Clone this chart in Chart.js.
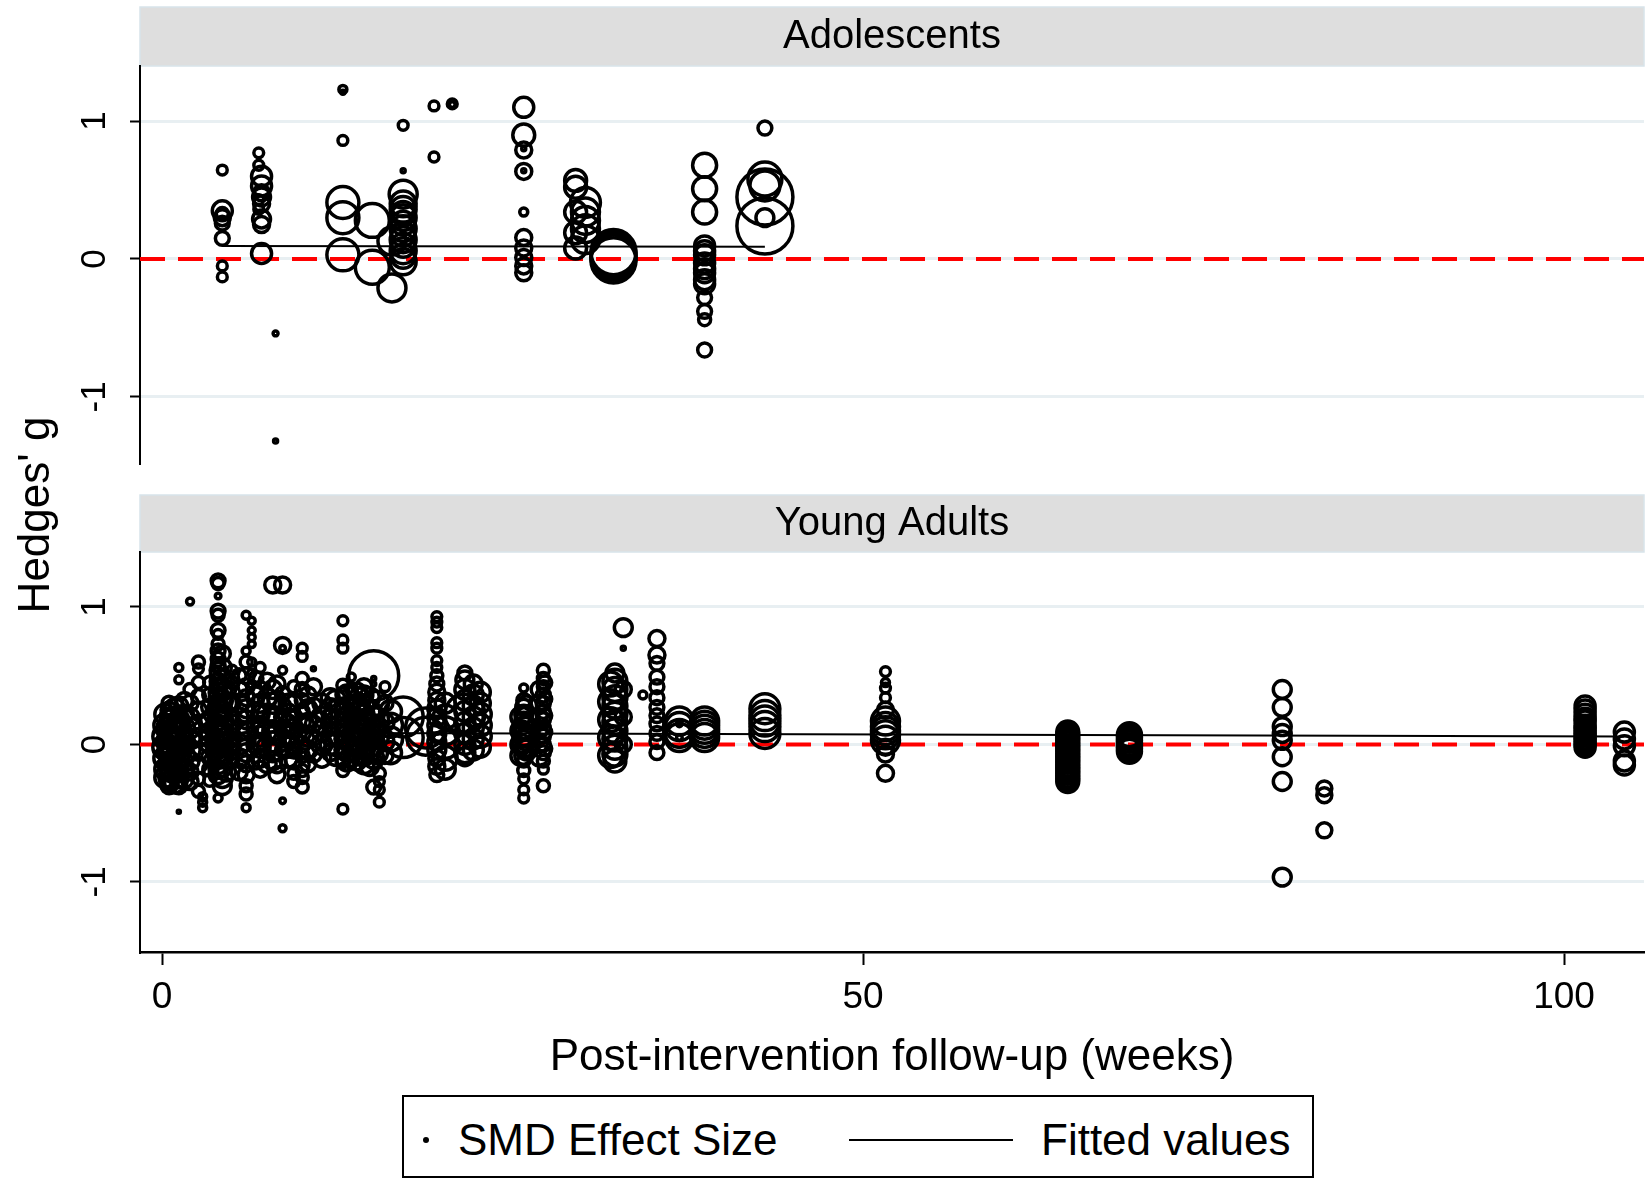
<!DOCTYPE html>
<html>
<head>
<meta charset="utf-8">
<script src="https://cdn.jsdelivr.net/npm/chart.js@4.4.1/dist/chart.umd.min.js"></script>
<style>
body { margin: 0; background: #fff; width: 1650px; height: 1180px; overflow: hidden; position: relative; font-family: "Liberation Sans", Arial, sans-serif; color: #000; }
canvas { position: absolute; left: 0; }
#topPanel { top: 0; }
#bottomPanel { top: 470px; }
#ylab { position: absolute; left: -116px; top: 490px; width: 300px; height: 50px; line-height: 50px; text-align: center; font-size: 44px; transform: rotate(-90deg); }
#legend { position: absolute; left: 402px; top: 1095px; width: 908px; height: 79px; border: 2px solid #000; }
#legend span { position: absolute; top: 17px; font-size: 44px; line-height: 52px; white-space: nowrap; }
#legend .dot { position: absolute; left: 19px; top: 40px; width: 6px; height: 6px; border-radius: 50%; background: #000; }
#legend .ln { position: absolute; left: 445px; top: 42px; width: 164px; height: 2px; background: #000; }
</style>
</head>
<body>
<canvas id="topPanel" width="1650" height="470"></canvas>
<canvas id="bottomPanel" width="1650" height="620"></canvas>
<div id="ylab">Hedges' g</div>
<div id="legend">
  <div class="dot"></div><span style="left:54px">SMD Effect Size</span>
  <div class="ln"></div><span style="left:637px">Fitted values</span>
</div>
<script>
// axis ticks
var xTicks = [0, 50, 100];
var yTicks = [-1, 0, 1];
var xMin = -1.57, xMax = 105.7;

// Adolescents: follow-up weeks, Hedges' g per column, study weights
var adolWeeks = [4.3, 6.9, 7.1, 8.1, 12.9, 15.0, 16.4, 17.2, 19.4, 20.7, 25.8, 29.5, 30.2, 32.2, 38.7, 43.0];
var adolG = [
  [0.645, 0.35, 0.33, 0.30, 0.26, 0.15, -0.05, -0.13],
  [0.77, 0.68, 0.43, 0.36],
  [0.60, 0.53, 0.48, 0.45, 0.40, 0.29, 0.25, 0.04],
  [-0.54, -1.32],
  [1.23, 1.21, 0.86, 0.41, 0.30, 0.03],
  [0.28, -0.06],
  [0.13, -0.21],
  [0.97, 0.64, 0.47, 0.40, 0.36, 0.33, 0.30, 0.26, 0.22, 0.18, 0.14, 0.10, 0.06, 0.02, -0.02],
  [1.11, 0.74],
  [1.125, 1.12],
  [1.10, 0.90, 0.79, 0.80, 0.635, 0.64, 0.34, 0.155, 0.08, 0.01, -0.05, -0.10],
  [0.57, 0.52, 0.34, 0.19, 0.08],
  [0.41, 0.34, 0.28, 0.22, 0.14],
  [0.05, 0.03, 0.01, -0.01],
  [0.68, 0.51, 0.34, 0.095, 0.06, 0.03, -0.03, -0.07, -0.10, -0.15, -0.18, -0.28, -0.38, -0.44, -0.66],
  [0.95, 0.58, 0.53, 0.45, 0.30, 0.24]
];
var adolW = [
  [6, 25, 9, 16, 12, 12, 6, 6],
  [6, 6, 6, 6],
  [25, 25, 16, 20, 16, 20, 16, 25],
  [1.5, 1],
  [4, 1, 6, 64, 64, 64],
  [72, 72],
  [49, 49],
  [6, 1, 49, 42, 42, 36, 42, 36, 42, 36, 42, 36, 42, 36, 42],
  [6, 6],
  [6, 2],
  [25, 30, 16, 1, 16, 1, 4, 16, 16, 16, 16, 16],
  [30, 30, 30, 30, 30],
  [56, 49, 49, 49, 49],
  [127, 127, 127, 127],
  [36, 36, 36, 25, 25, 25, 25, 25, 25, 25, 25, 12, 12, 9, 12],
  [12, 72, 56, 196, 20, 196]
];
var adolFitX = [4.3, 43.0];
var adolFitY = [0.095, 0.088];

// Young adults
var yaWeeks = [0.2, 0.5, 0.9, 1.2, 1.6, 2.0, 2.6, 2.9, 3.4, 4.0, 4.3, 4.6, 5.0, 5.5, 6.0, 6.4, 6.7, 7.0, 7.5, 7.9, 8.2, 8.6, 9.0, 9.4, 10.0, 10.4, 10.8, 11.4, 12.0, 12.9, 13.5, 13.9, 14.4, 14.8, 15.1, 15.5, 15.9, 16.3, 17.2, 18.8, 19.6, 20.2, 21.6, 22.2, 22.7, 25.8, 26.0, 27.2, 27.3, 32.0, 32.3, 32.9, 34.3, 35.3, 36.9, 38.7, 43.0, 51.6, 64.6, 69.0, 79.9, 82.9, 101.5, 104.3, 0.7, 12.4, 13.2, 14.1, 15.3, 25.6, 26.9];
var yaG = [
  [0.22, 0.14, 0.06, -0.02, -0.10, -0.18, -0.24],
  [0.30, 0.25, 0.20, 0.16, 0.12, 0.08, 0.05, 0.02, -0.01, -0.04, -0.08, -0.12, -0.16, -0.20, -0.24, -0.27, -0.30],
  [0.26, 0.19, 0.11, 0.03, -0.05, -0.13, -0.21, -0.28],
  [0.56, 0.47, 0.28, 0.18, 0.10, 0.04, -0.02, -0.10, -0.18, -0.25, -0.30, -0.49],
  [0.32, 0.22, 0.12, 0.02, -0.08, -0.18, -0.26],
  [1.04, 0.40, 0.30, 0.20, 0.12, 0.04, -0.04, -0.12, -0.20, -0.27],
  [0.60, 0.55, 0.45, 0.35, 0.25, 0.15, 0.05, -0.05, -0.15, -0.25, -0.34],
  [-0.38, -0.42, -0.46],
  [0.45, 0.36, 0.27, 0.18, 0.09, 0.00, -0.09, -0.18, -0.26],
  [1.19, 1.17, 1.08, 0.97, 0.94, 0.83, 0.80, 0.73, 0.68, 0.62, 0.58, 0.54, 0.50, 0.46, 0.42, 0.38, 0.34, 0.30, 0.26, 0.22, 0.18, 0.14, 0.10, 0.06, 0.02, -0.02, -0.06, -0.10, -0.14, -0.18, -0.22, -0.39],
  [0.66, 0.56, 0.48, 0.40, 0.32, 0.24, 0.16, 0.08, 0.00, -0.08, -0.16, -0.24, -0.30],
  [0.40, 0.30, 0.20, 0.10, 0.00, -0.10, -0.20],
  [0.54, 0.45, 0.30, 0.15, 0.05, -0.05],
  [0.50, 0.40, 0.30, 0.20, 0.10, 0.00, -0.10, -0.20],
  [0.94, 0.68, 0.60, 0.50, 0.42, 0.34, 0.26, 0.18, 0.10, 0.02, -0.06, -0.14, -0.22, -0.30, -0.36, -0.46],
  [0.90, 0.83, 0.78, 0.73, 0.60, 0.52, 0.44],
  [0.48, 0.36, 0.24, 0.12, 0.00, -0.12],
  [0.56, 0.40, 0.30, 0.22, 0.14, 0.06, -0.02, -0.10, -0.18],
  [0.46, 0.34, 0.22, 0.10, -0.02, -0.14],
  [1.16, 0.40, 0.30, 0.20, 0.10, 0.02, -0.06, -0.12],
  [0.44, 0.32, 0.20, 0.08, -0.04, -0.14, -0.22],
  [1.16, 0.72, 0.70, 0.54, 0.37, 0.28, 0.20, 0.12, 0.04, -0.04, -0.41, -0.61],
  [0.30, 0.22, 0.14, 0.06, -0.02, -0.10],
  [0.42, 0.30, 0.20, 0.12, 0.04, -0.04, -0.12, -0.21, -0.27],
  [0.70, 0.64, 0.48, 0.40, 0.32, 0.24, 0.16, 0.08, 0.00, -0.08, -0.15, -0.19, -0.24, -0.31],
  [0.36, 0.26, 0.16, 0.06, -0.04, -0.14],
  [0.55, 0.42, 0.28, 0.15, 0.05, -0.07],
  [0.30, 0.20, 0.10, 0.00, -0.10],
  [0.34, 0.26, 0.20, 0.14, 0.06, 0.00, -0.06],
  [0.90, 0.76, 0.70, 0.43, 0.36, 0.28, 0.20, 0.12, 0.04, -0.04, -0.12, -0.19, -0.47],
  [0.49, 0.40, 0.30, 0.22, 0.14, 0.06, -0.02, -0.10],
  [0.38, 0.28, 0.18, 0.08, -0.02, -0.12],
  [0.42, 0.36, 0.28, 0.22, 0.16, 0.10, 0.04, -0.02, -0.08, -0.14],
  [0.34, 0.24, 0.14, 0.04, -0.06, -0.16],
  [0.50, 0.48, 0.44, 0.20, 0.10, 0.00, -0.10, -0.31],
  [-0.21, -0.27, -0.33, -0.42],
  [0.42, 0.30, 0.16, 0.02, -0.08],
  [0.24, 0.14, 0.04, -0.06],
  [0.20, 0.05],
  [0.12, 0.06],
  [0.93, 0.89, 0.85, 0.74, 0.70, 0.61, 0.56, 0.50, 0.44, 0.38, 0.32, 0.26, 0.20, 0.14, 0.08, 0.02, -0.04, -0.10, -0.16, -0.22],
  [0.30, 0.20, 0.10, 0.00, -0.10, -0.18],
  [0.52, 0.47, 0.40, 0.32, 0.24, 0.22, 0.16, 0.08, 0.00, -0.06, -0.09],
  [0.44, 0.36, 0.28, 0.20, 0.12, 0.04, -0.04],
  [0.38, 0.30, 0.22, 0.14, 0.06, -0.02],
  [0.41, 0.32, 0.27, 0.22, 0.17, 0.12, 0.07, 0.02, -0.03, -0.08, -0.12, -0.19, -0.25, -0.33, -0.39],
  [0.28, 0.20, 0.12, 0.04, -0.04],
  [0.54, 0.48, 0.42, 0.36, 0.30, 0.24, 0.18, 0.12, 0.06, 0.00, -0.06, -0.12, -0.18, -0.30],
  [0.45, 0.33, 0.21, 0.09, -0.03],
  [0.44, 0.31, 0.18, 0.05, -0.08],
  [0.52, 0.46, 0.40, 0.34, 0.28, 0.22, 0.16, 0.10, 0.04, -0.02, -0.07, -0.12],
  [0.85, 0.70, 0.40, 0.20, 0.00],
  [0.36],
  [0.77, 0.65, 0.59, 0.49, 0.42, 0.34, 0.27, 0.21, 0.15, 0.08, 0.02, -0.06],
  [0.17, 0.15, 0.13, 0.08, 0.05, 0.05],
  [0.17, 0.14, 0.11, 0.08, 0.05],
  [0.26, 0.21, 0.17, 0.13, 0.08],
  [0.53, 0.45, 0.41, 0.34, 0.25, 0.17, 0.13, 0.10, 0.07, 0.03, -0.02, -0.07, -0.21],
  [0.09, 0.07, 0.05, 0.03, 0.01, -0.01, -0.03, -0.05, -0.07, -0.09, -0.11, -0.13, -0.15, -0.17, -0.19, -0.21, -0.23, -0.25, -0.27],
  [0.07, 0.05, 0.03, 0.01, -0.01, -0.03, -0.05],
  [0.40, 0.27, 0.13, 0.08, 0.03, -0.09, -0.27, -0.965],
  [-0.32, -0.37, -0.625],
  [0.28, 0.25, 0.22, 0.19, 0.17, 0.14, 0.12, 0.10, 0.08, 0.06, 0.04, 0.02, 0.00, -0.02],
  [0.09, 0.04, -0.01, -0.12, -0.15],
  [0.18, 0.09, 0.00, -0.09, -0.18],
  [0.32, 0.24, 0.16, 0.08, 0.00, -0.08],
  [0.36, 0.26, 0.16, 0.06, -0.04, -0.12],
  [0.33, 0.23, 0.13, 0.03, -0.07],
  [0.30, 0.18, 0.06, -0.06],
  [0.20, 0.10, 0.00, -0.08],
  [0.40, 0.30, 0.20, 0.10, 0.00, -0.10]
];
var yaW = [
  [25, 30, 36, 36, 30, 25, 25],
  [12, 16, 20, 16, 36, 25, 30, 36, 25, 30, 25, 20, 25, 20, 25, 20, 16],
  [25, 30, 36, 36, 36, 30, 25, 25],
  [4, 4, 20, 25, 30, 36, 30, 25, 20, 20, 16, 0.6],
  [16, 20, 25, 25, 25, 20, 16],
  [3, 9, 16, 20, 25, 25, 25, 20, 16, 16],
  [9, 6, 9, 12, 16, 20, 20, 20, 16, 9, 9],
  [4, 4, 4],
  [9, 12, 16, 20, 20, 20, 16, 12, 9],
  [12, 9, 2, 12, 9, 12, 6, 9, 12, 12, 12, 16, 16, 16, 16, 20, 20, 20, 25, 25, 25, 25, 30, 30, 30, 30, 25, 25, 25, 20, 20, 4],
  [16, 20, 20, 25, 25, 25, 30, 30, 30, 30, 25, 25, 20],
  [20, 25, 25, 30, 30, 25, 20],
  [6, 9, 16, 20, 20, 16],
  [12, 16, 20, 20, 25, 25, 20, 16],
  [4, 4, 9, 16, 16, 16, 20, 20, 20, 20, 20, 16, 16, 9, 9, 4],
  [3, 3, 3, 3, 4, 4, 4],
  [12, 16, 20, 20, 20, 16],
  [6, 16, 20, 20, 20, 25, 25, 20, 16],
  [16, 20, 25, 25, 25, 20],
  [16, 20, 25, 25, 25, 25, 20, 20],
  [16, 20, 25, 25, 25, 20, 16],
  [16, 16, 2, 4, 12, 16, 16, 16, 16, 12, 2, 3],
  [20, 25, 25, 25, 25, 20],
  [9, 16, 16, 20, 20, 16, 16, 9, 9],
  [6, 6, 9, 12, 12, 12, 16, 16, 16, 12, 12, 9, 9, 9],
  [16, 20, 20, 25, 20, 16],
  [1, 16, 16, 16, 16, 16],
  [20, 25, 25, 25, 20],
  [20, 25, 16, 16, 20, 25, 16],
  [6, 6, 6, 9, 12, 16, 16, 16, 16, 16, 12, 9, 6],
  [4, 9, 16, 16, 16, 20, 20, 16],
  [20, 25, 25, 25, 25, 20],
  [16, 20, 25, 25, 25, 30, 30, 30, 25, 25],
  [25, 30, 30, 30, 25, 20],
  [156, 1, 1, 25, 30, 30, 25, 12],
  [9, 6, 6, 6],
  [6, 16, 20, 20, 16],
  [30, 36, 36, 30],
  [100, 100],
  [100, 90],
  [6, 6, 6, 6, 6, 6, 6, 9, 12, 16, 16, 20, 20, 20, 20, 20, 20, 16, 16, 12],
  [25, 36, 49, 49, 36, 25],
  [12, 20, 25, 25, 25, 100, 25, 25, 25, 25, 20],
  [20, 25, 25, 25, 25, 25, 25],
  [25, 25, 30, 30, 30, 25],
  [4, 12, 16, 20, 20, 30, 30, 30, 20, 20, 9, 9, 6, 6, 6],
  [25, 25, 30, 30, 25],
  [9, 9, 9, 12, 12, 12, 12, 12, 12, 12, 12, 9, 6, 9],
  [12, 12, 12, 12, 12],
  [36, 36, 36, 36, 36],
  [20, 36, 36, 36, 36, 36, 36, 36, 36, 36, 36, 30],
  [20, 1, 16, 16, 16],
  [4],
  [16, 16, 12, 12, 12, 12, 12, 12, 12, 12, 12, 12],
  [49, 2, 49, 49, 49, 2],
  [49, 49, 49, 49, 49],
  [56, 56, 56, 56, 56],
  [6, 4, 6, 6, 16, 49, 49, 49, 49, 49, 16, 16, 16],
  [30, 30, 30, 30, 30, 30, 30, 30, 30, 30, 30, 30, 30, 30, 30, 30, 30, 30, 30],
  [36, 36, 36, 36, 36, 36, 36],
  [20, 20, 20, 20, 20, 20, 20, 20],
  [14, 14, 14],
  [25, 25, 25, 25, 25, 25, 25, 25, 25, 25, 25, 25, 25, 25],
  [25, 25, 25, 25, 25],
  [30, 36, 36, 36, 30],
  [25, 30, 30, 30, 30, 25],
  [25, 30, 30, 30, 30, 25],
  [30, 36, 36, 36, 30],
  [36, 36, 36, 30],
  [25, 25, 25, 25],
  [16, 16, 16, 16, 16, 16]
];
var yaFitX = [0.3, 104.3];
var yaFitY = [0.086, 0.058];

var FONT = '"Liberation Sans", Arial, sans-serif';
Chart.defaults.font.family = FONT;
Chart.defaults.color = '#000';

function bubbles(weeks, g, w) {
  var pts = [];
  weeks.forEach(function (x, i) {
    g[i].forEach(function (y, j) {
      pts.push({ x: x, y: y, r: 2 * Math.sqrt(w[i][j]) });
    });
  });
  return pts;
}

// grey strip behind each panel title, as in Stata's by() header
var headerBand = {
  id: 'headerBand',
  beforeDraw: function (chart) {
    var t = chart.titleBlock, a = chart.chartArea, ctx = chart.ctx;
    ctx.save();
    ctx.fillStyle = '#dedede';
    ctx.fillRect(a.left, t.top, a.right - a.left, t.bottom - t.top);
    ctx.strokeStyle = '#d8e4ea';
    ctx.lineWidth = 1.5;
    ctx.strokeRect(a.left, t.top, a.right - a.left, t.bottom - t.top);
    ctx.restore();
  }
};

function makePanel(id, title, weeks, g, w, fitX, fitY, yMin, showX, padTop, padBottom, titlePad) {
  return new Chart(document.getElementById(id), {
    type: 'bubble',
    data: {
      datasets: [{
        type: 'line',
        data: fitX.map(function (x, i) { return { x: x, y: fitY[i] }; }),
        borderColor: '#000',
        borderWidth: 2,
        pointRadius: 0,
        order: 0
      }, {
        data: bubbles(weeks, g, w),
        borderColor: '#000',
        borderWidth: 3.5,
        backgroundColor: 'rgba(0,0,0,0)',
        order: 1
      }, {
        type: 'line',
        data: [{ x: xMin, y: 0 }, { x: xMax, y: 0 }],
        borderColor: '#ff0000',
        borderWidth: 4,
        borderDash: [25, 13],
        pointRadius: 0,
        order: 2
      }]
    },
    options: {
      responsive: false,
      animation: false,
      devicePixelRatio: 1,
      events: [],
      layout: { autoPadding: false, padding: { top: padTop, left: 0, right: 6, bottom: padBottom } },
      plugins: {
        legend: { display: false },
        tooltip: { enabled: false },
        title: {
          display: true,
          text: title,
          fullSize: false,
          color: '#000',
          font: { size: 40, weight: 'normal' },
          padding: titlePad
        }
      },
      scales: {
        x: {
          type: 'linear',
          min: xMin,
          max: xMax,
          display: showX,
          afterBuildTicks: function (s) { s.ticks = xTicks.map(function (v) { return { value: v }; }); },
          afterFit: function (s) { if (showX) { s.height = 138; } },
          ticks: { font: { size: 37 }, color: '#000', padding: 11, maxRotation: 0, callback: function (v) { return String(v); } },
          grid: { drawOnChartArea: false, tickLength: 13, tickColor: '#000', tickWidth: 2 },
          border: { color: '#000', width: 2.5 },
          title: {
            display: true,
            text: 'Post-intervention follow-up (weeks)',
            color: '#000',
            font: { size: 44 },
            padding: { top: 0, bottom: 6 }
          }
        },
        y: {
          type: 'linear',
          min: yMin,
          max: 1.40,
          afterBuildTicks: function (s) { s.ticks = yTicks.map(function (v) { return { value: v }; }); },
          afterFit: function (s) { s.width = 140; s.paddingTop = 0; s.paddingBottom = 0; },
          ticks: {
            font: { size: 35 },
            color: '#000',
            minRotation: 90,
            maxRotation: 90,
            crossAlign: 'center',
            padding: 19,
            callback: function (v) { return String(v); }
          },
          grid: { color: '#e8eff2', lineWidth: 3, tickColor: '#000', tickLength: 10, tickWidth: 2 },
          border: { color: '#000', width: 2 }
        }
      }
    },
    plugins: [headerBand]
  });
}

makePanel('topPanel', 'Adolescents', adolWeeks, adolG, adolW, adolFitX, adolFitY, -1.48, false, 7, 7, { top: 6, bottom: 5 });
makePanel('bottomPanel', 'Young Adults', yaWeeks, yaG, yaW, yaFitX, yaFitY, -1.51, true, 25, 0, { top: 5, bottom: 4 });
</script>
</body>
</html>
